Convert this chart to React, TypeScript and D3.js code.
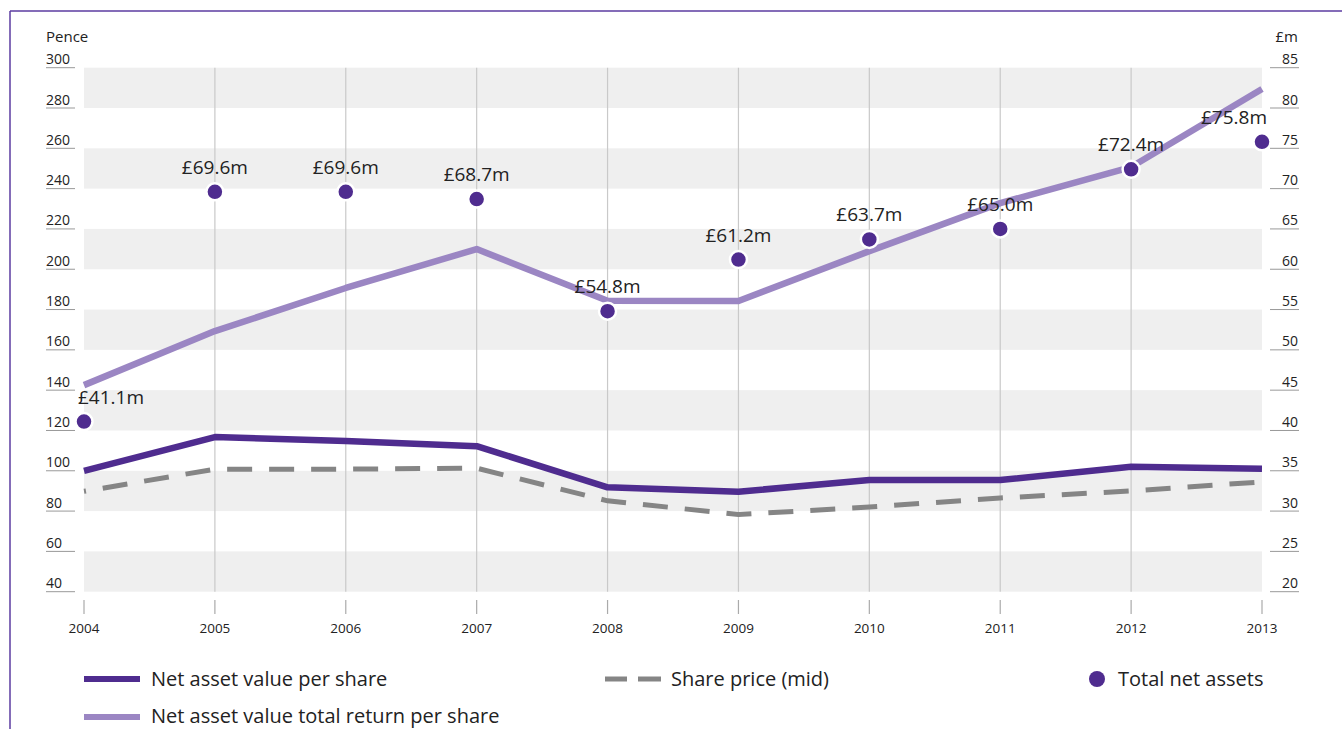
import React from 'react';
import * as d3 from 'd3';

const years = [2004, 2005, 2006, 2007, 2008, 2009, 2010, 2011, 2012, 2013];
const navPerShare = [100, 116.7, 114.8, 112.2, 91.8, 89.6, 95.4, 95.4, 102, 101];
const sharePrice = [89.8, 100.8, 100.8, 101.3, 85.1, 78.3, 82, 86.5, 90, 94.5];
const navTotalReturn = [142.5, 169.3, 190.7, 210, 184.4, 184.2, 209, 232.8, 250.7, 289.4];
const totalNetAssets = [41.1, 69.6, 69.6, 68.7, 54.8, 61.2, 63.7, 65.0, 72.4, 75.8];
const penceTicks = [40, 60, 80, 100, 120, 140, 160, 180, 200, 220, 240, 260, 280, 300];
const fmTicks = [20, 25, 30, 35, 40, 45, 50, 55, 60, 65, 70, 75, 80, 85];

const FONT = "'Open Sans', sans-serif";
const DARK = '#4f2c8f';
const LIGHT = '#9b86c3';
const GREY = '#858585';
const TEXT = '#222';

export default function App() {
  const x = d3.scaleLinear().domain([2004, 2013]).range([84, 1262]);
  const yL = d3.scaleLinear().domain([40, 300]).range([591.7, 67.7]);
  const yR = d3.scaleLinear().domain([20, 85]).range([591.7, 67.7]);

  const lineL = d3.line<number>().x((_, i) => x(years[i])).y((d) => yL(d));

  const bands = penceTicks.filter((t, i) => i % 2 === 0).map((t) => [t, t + 20]);
  const labels = totalNetAssets.map((v) => `£${v.toFixed(1)}m`);

  return (
    <svg
      width={1342}
      height={729}
      style={{ position: 'absolute', left: 0, top: 0, background: '#fff' }}
      fontFamily={FONT}
    >
      {/* frame */}
      <line x1={10} y1={11} x2={1342} y2={11} stroke="#5b3ba0" strokeWidth={1.5} />
      <line x1={10} y1={11} x2={10} y2={729} stroke="#5b3ba0" strokeWidth={1.5} />

      {/* bands */}
      {bands.map(([a, b]) => (
        <rect key={a} x={x(2004)} y={yL(b)} width={x(2013) - x(2004)} height={yL(a) - yL(b)} fill="#efefef" />
      ))}

      {/* vertical gridlines */}
      {years.slice(1, -1).map((yr) => (
        <line key={yr} x1={x(yr)} x2={x(yr)} y1={yL(300)} y2={yL(40)} stroke="#c9c9c9" strokeWidth={1.2} />
      ))}

      {/* x ticks & labels */}
      {years.map((yr) => (
        <g key={yr}>
          <line x1={x(yr)} x2={x(yr)} y1={600} y2={614} stroke="#aaa" strokeWidth={1.2} />
          <text x={x(yr)} y={633} textAnchor="middle" fontSize={13.5} fill={TEXT}>{yr}</text>
        </g>
      ))}

      {/* left axis */}
      <text x={46} y={42} fontSize={15} fill={TEXT}>Pence</text>
      {penceTicks.map((t) => (
        <g key={t}>
          <line x1={46} x2={75} y1={yL(t)} y2={yL(t)} stroke="#999" strokeWidth={1} />
          <text x={46} y={yL(t) - 3.5} fontSize={14} fill={TEXT}>{t}</text>
        </g>
      ))}

      {/* right axis */}
      <text x={1298} y={42} fontSize={15} fill={TEXT} textAnchor="end">£m</text>
      {fmTicks.map((t) => (
        <g key={t}>
          <line x1={1270} x2={1299} y1={yR(t)} y2={yR(t)} stroke="#999" strokeWidth={1} />
          <text x={1298} y={yR(t) - 3.5} fontSize={14} fill={TEXT} textAnchor="end">{t}</text>
        </g>
      ))}

      {/* lines */}
      <path d={lineL(sharePrice) || ''} fill="none" stroke={GREY} strokeWidth={5} strokeDasharray="25 17" strokeDashoffset={23} />
      <path d={lineL(navPerShare) || ''} fill="none" stroke={DARK} strokeWidth={6.5} strokeLinejoin="round" />
      <path d={lineL(navTotalReturn) || ''} fill="none" stroke={LIGHT} strokeWidth={6.5} strokeLinejoin="round" />

      {/* dots */}
      {totalNetAssets.map((v, i) => (
        <circle key={i} cx={x(years[i])} cy={yR(v)} r={8.5} fill={DARK} stroke="#fff" strokeWidth={2.5} />
      ))}
      {totalNetAssets.map((v, i) => {
        const last = i === totalNetAssets.length - 1;
        const anchor = i === 0 ? 'start' : last ? 'end' : 'middle';
        const dx = i === 0 ? -6 : last ? 5 : 0;
        return (
          <text key={i} x={x(years[i]) + dx} y={yR(v) - 18} textAnchor={anchor} fontSize={19} fill={TEXT}>
            {labels[i]}
          </text>
        );
      })}

      {/* legend */}
      <line x1={84} x2={140} y1={679} y2={679} stroke={DARK} strokeWidth={6} />
      <text x={151} y={686} fontSize={20} fill={TEXT}>Net asset value per share</text>
      <line x1={84} x2={140} y1={717} y2={717} stroke={LIGHT} strokeWidth={6} />
      <text x={151} y={723} fontSize={20} fill={TEXT}>Net asset value total return per share</text>
      <line x1={605} x2={627} y1={679} y2={679} stroke={GREY} strokeWidth={5} />
      <line x1={638} x2={661} y1={679} y2={679} stroke={GREY} strokeWidth={5} />
      <text x={671} y={686} fontSize={20} fill={TEXT}>Share price (mid)</text>
      <circle cx={1097} cy={679} r={8} fill={DARK} />
      <text x={1118} y={686} fontSize={20} fill={TEXT}>Total net assets</text>
    </svg>
  );
}
